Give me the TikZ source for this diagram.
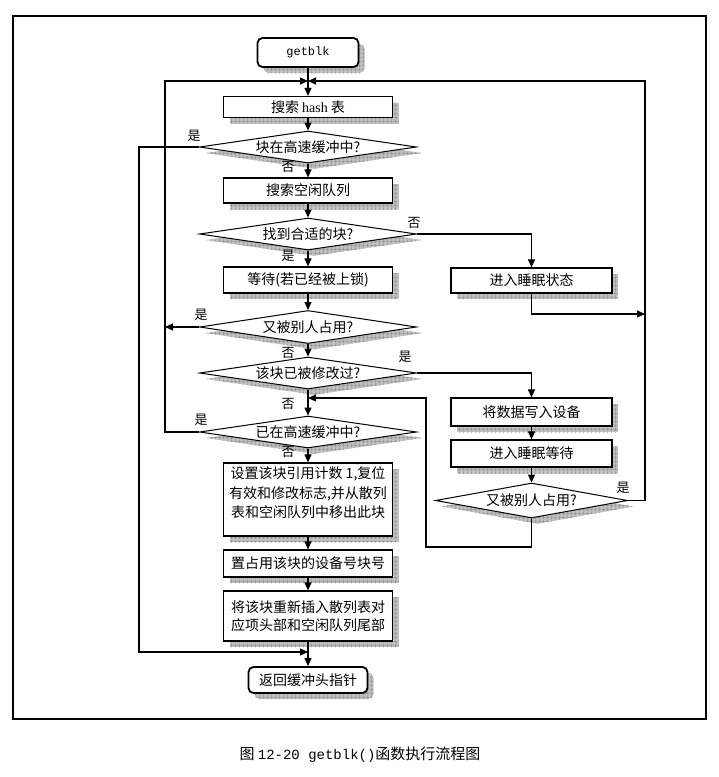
\documentclass[tikz,border=0pt]{standalone}
\usepackage{fontspec}
\setmainfont{Noto Sans CJK SC}
\newfontfamily\monof{Liberation Mono}
\newfontfamily\latf{Liberation Serif}
\usetikzlibrary{shapes.geometric,arrows.meta,shadows,patterns.meta}
\begin{document}
\begin{tikzpicture}[x=1pt,y=-1pt,
  font=\fontsize{14}{19.5}\selectfont,
  >={Triangle[length=8pt,width=7pt]},
  conn/.style={draw,line width=1.1pt},
  shad/.style={general shadow={shadow xshift=6pt,shadow yshift=-6pt,fill=gray!50},
               general shadow={shadow xshift=6pt,shadow yshift=-6pt,
                 pattern={Hatch[distance=4pt,angle=0,line width=0.45pt]},pattern color=gray!85}},
  box/.style={draw,fill=white,line width=1.2pt,inner sep=0pt,shad,align=center},
  dia/.style={diamond,draw,fill=white,line width=1pt,inner sep=0pt,shad,
              minimum width=217pt,minimum height=32pt,aspect=6.8},
  term/.style={draw,fill=white,rounded corners=5pt,line width=1.8pt,inner sep=0pt,shad},
  lab/.style={font=\fontsize{13}{13}\selectfont,inner sep=0pt}]
\useasboundingbox (0,0) rectangle (719,777);
\draw[line width=1.8pt] (13,16) rectangle (706,719);

% main column
\node[term,minimum width=101pt,minimum height=29pt] (g) at (308,52.5) {\monof\fontsize{12}{12}\selectfont getblk};
\node[box,minimum width=169pt,minimum height=21pt] (b1) at (308,107) {搜索 {\latf hash} 表};
\node[dia] (d1) at (308,147) {块在高速缓冲中?};
\node[box,minimum width=169pt,minimum height=25pt] (b2) at (308,190.5) {搜索空闲队列};
\node[dia] (d2) at (308,234) {找到合适的块?};
\node[box,minimum width=169pt,minimum height=26pt] (b3) at (308,280) {等待(若已经被上锁)};
\node[dia,minimum height=33pt] (d3) at (308,327) {又被别人占用?};
\node[dia] (d4) at (308,373) {该块已被修改过?};
\node[dia] (d6) at (308,432) {已在高速缓冲中?};
\node[box,minimum width=169pt,minimum height=73pt] (b4) at (308,499.5) {};
\node[anchor=north,align=center,inner sep=0pt] (b4t) at (308,466.5) {设置该块引用计数 1,复位\\有效和修改标志,并从散列\\表和空闲队列中移出此块};
\node[box,minimum width=169pt,minimum height=27pt] (b5) at (308,563.5) {置占用该块的设备号块号};
\node[box,minimum width=169pt,minimum height=50pt,font=\fontsize{14}{18}\selectfont] (b6) at (308,616) {将该块重新插入散列表对\\应项头部和空闲队列尾部};
\node[term,minimum width=119pt,minimum height=26pt] (ret) at (308,680) {返回缓冲头指针};

% right column
\node[box,minimum width=161pt,minimum height=25pt] (s1) at (531.5,280.5) {进入睡眠状态};
\node[box,minimum width=161pt,minimum height=28pt] (w) at (531.5,412) {将数据写入设备};
\node[box,minimum width=161pt,minimum height=27pt] (s2) at (531.5,453.5) {进入睡眠等待};
\node[dia,minimum width=192pt,minimum height=35pt,aspect=5.5] (d5) at (531.5,500.5) {又被别人占用?};

% junction coordinates
\coordinate (jtop) at (308,81);
\coordinate (cL) at (165,81);
\coordinate (cR) at (645,81);
\coordinate (cS) at (645,314);
\coordinate (jmid) at (308,398);
\coordinate (jret) at (308,652);
\coordinate (cA1) at (139,147);
\coordinate (cA2) at (139,652);
\coordinate (cD1) at (531.5,547);
\coordinate (cD2) at (426,547);
\coordinate (cD3) at (426,398);

% connectors
\draw[conn,->] (g.south) -- (b1.north);
\draw[conn,->] (b1.south) -- (d1.north);
\draw[conn,->] (d1.south) -- (b2.north);
\draw[conn,->] (b2.south) -- (d2.north);
\draw[conn,->] (d2.south) -- (b3.north);
\draw[conn,->] (b3.south) -- (d3.north);
\draw[conn,->] (d3.south) -- (d4.north);
\draw[conn,->] (d4.south) -- (d6.north);
\draw[conn,->] (d6.south) -- (b4.north);
\draw[conn,->] (b4.south) -- (b5.north);
\draw[conn,->] (b5.south) -- (b6.north);
\draw[conn,->] (b6.south) -- (ret.north);

\draw[conn,->] (d1.west) -- (cA1) -- (cA2) -- (jret);
\draw[conn,->] (d6.west) -| (cL) -- (jtop);
\draw[conn,->] (d3.west) -- (d3.west -| cL);
\draw[conn,->] (d2.east) -| (s1.north);
\draw[conn,->] (s1.south) |- (cS);
\draw[conn,->] (d4.east) -| (w.north);
\draw[conn,->] (w.south) -- (s2.north);
\draw[conn,->] (s2.south) -- (d5.north);
\draw[conn,->] (d5.east) -| (cR) -- (jtop);
\draw[conn,->] (d5.south) -- (cD1) -- (cD2) -- (cD3) -- (jmid);

% labels
\node[lab] (l1) at (194,136) {是};
\node[lab] (l2) at (288,167) {否};
\node[lab] (l3) at (414,223) {否};
\node[lab] (l4) at (288,256) {是};
\node[lab] (l5) at (201,315) {是};
\node[lab] (l6) at (288,353) {否};
\node[lab] (l7) at (405,357) {是};
\node[lab] (l8) at (288,404) {否};
\node[lab] (l9) at (201,420) {是};
\node[lab] (l10) at (288,452) {否};
\node[lab] (l11) at (623,488) {是};

% caption
\node[inner sep=0pt,font=\fontsize{15}{15}\selectfont] (cap) at (360,755) {图 {\monof\fontsize{14}{14}\selectfont 12-20 getblk()}函数执行流程图};
\end{tikzpicture}
\end{document}
